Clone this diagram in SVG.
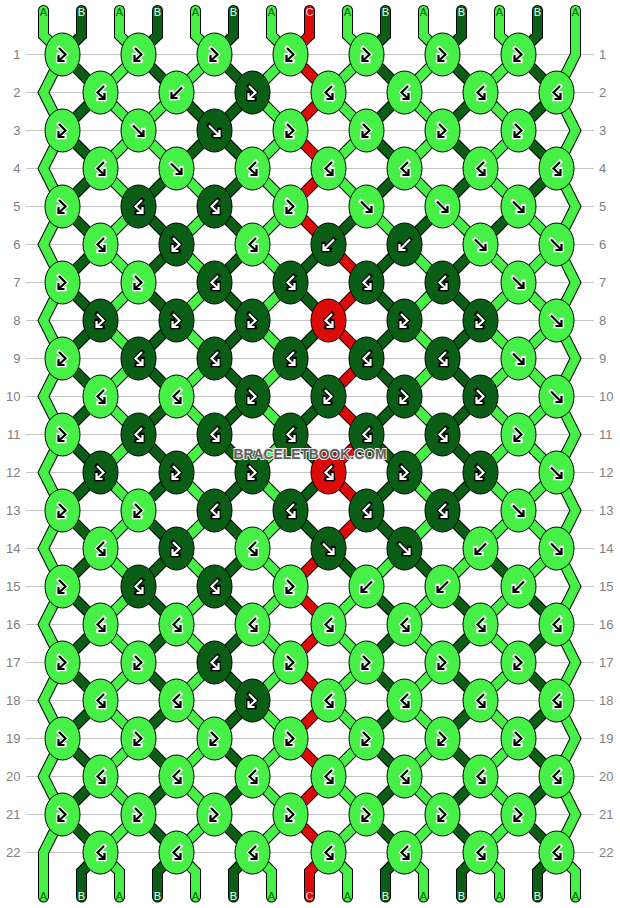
<svg xmlns="http://www.w3.org/2000/svg" xmlns:xlink="http://www.w3.org/1999/xlink" width="620" height="908" viewBox="0 0 620 908">
<style>
.grid{fill:none;stroke:#c4c4c4;stroke-width:1}
.ol{fill:none;stroke:#000;stroke-width:11;stroke-linecap:round;stroke-linejoin:miter}
.sa{fill:none;stroke:#46f046;stroke-width:9;stroke-linecap:round;stroke-linejoin:miter}
.sb{fill:none;stroke:#0b5e15;stroke-width:9;stroke-linecap:round;stroke-linejoin:miter}
.sc{fill:none;stroke:#dd0a0a;stroke-width:9;stroke-linecap:round;stroke-linejoin:miter}
.kA{fill:#46f046;stroke:#000;stroke-width:1}
.kB{fill:#0b5e15;stroke:#000;stroke-width:1}
.kC{fill:#dd0a0a;stroke:#000;stroke-width:1}
.o1{fill:none;stroke:#fff;stroke-width:4.4;stroke-linecap:square}
.i1{fill:none;stroke:#000;stroke-width:2.2;stroke-linecap:butt}
.o2{fill:none;stroke:#000;stroke-width:4.4;stroke-linecap:square}
.i2{fill:none;stroke:#fff;stroke-width:2.2;stroke-linecap:butt}
.lab{font-family:"Liberation Sans",Arial,sans-serif;font-size:11px;text-anchor:middle}
.la{fill:#0b5e15}
.lb{fill:#e8ffe8}
.lc{fill:#ffd6d6}
.num{font-family:"Liberation Sans",Arial,sans-serif;font-size:13px;fill:#808080}
.wm{font-family:"Liberation Sans",Arial,sans-serif;font-weight:bold;font-size:15px;fill:#5e5e5e;stroke:#f0f0f0;stroke-width:2;paint-order:stroke;text-anchor:middle}
</style>
<defs>
<path id="gFB" d="M-3.5-6.5L3 0L-4 6.5M-4 0.5V6.5H2"/>
<path id="gBF" d="M3.5-6.5L-3 0L4 6.5M4 0.5V6.5H-2"/>
<path id="gF" d="M-5.5-5L5 5.5M5-0.5V5.5H-1"/>
<path id="gB" d="M5.5-5L-5 5.5M-5-0.5V5.5H1"/>
<g id="aFB"><ellipse class="kA" rx="17.5" ry="21.5"/><use href="#gFB" class="o1"/><use href="#gFB" class="i1"/></g>
<g id="aBF"><ellipse class="kA" rx="17.5" ry="21.5"/><use href="#gBF" class="o1"/><use href="#gBF" class="i1"/></g>
<g id="aF"><ellipse class="kA" rx="17.5" ry="21.5"/><use href="#gF" class="o1"/><use href="#gF" class="i1"/></g>
<g id="aB"><ellipse class="kA" rx="17.5" ry="21.5"/><use href="#gB" class="o1"/><use href="#gB" class="i1"/></g>
<g id="bFB"><ellipse class="kB" rx="17.5" ry="21.5"/><use href="#gFB" class="o2"/><use href="#gFB" class="i2"/></g>
<g id="bBF"><ellipse class="kB" rx="17.5" ry="21.5"/><use href="#gBF" class="o2"/><use href="#gBF" class="i2"/></g>
<g id="bF"><ellipse class="kB" rx="17.5" ry="21.5"/><use href="#gF" class="o2"/><use href="#gF" class="i2"/></g>
<g id="bB"><ellipse class="kB" rx="17.5" ry="21.5"/><use href="#gB" class="o2"/><use href="#gB" class="i2"/></g>
<g id="cBF"><ellipse class="kC" rx="17.5" ry="21.5"/><use href="#gBF" class="o2"/><use href="#gBF" class="i2"/></g>
<path id="pA" d="M62.5 54.5L43.5 92.5L62.5 130.5L43.5 168.5L62.5 206.5L43.5 244.5L62.5 282.5L43.5 320.5L62.5 358.5L43.5 396.5L62.5 434.5L43.5 472.5L62.5 510.5L43.5 548.5L62.5 586.5L43.5 624.5L62.5 662.5L43.5 700.5L62.5 738.5L43.5 776.5L62.5 814.5L43.5 852.5V897
M575.5 10.5V54.5L556.5 92.5L575.5 130.5L556.5 168.5L575.5 206.5L556.5 244.5L575.5 282.5L556.5 320.5L575.5 358.5L556.5 396.5L575.5 434.5L556.5 472.5L575.5 510.5L556.5 548.5L575.5 586.5L556.5 624.5L575.5 662.5L556.5 700.5L575.5 738.5L556.5 776.5L575.5 814.5L556.5 852.5L575.5 871.5V897
M43.5 10.5V35.5L62.5 54.5M119.5 10.5V35.5L138.5 54.5M195.5 10.5V35.5L214.5 54.5M271.5 10.5V35.5L290.5 54.5M347.5 10.5V35.5L366.5 54.5M423.5 10.5V35.5L442.5 54.5M499.5 10.5V35.5L518.5 54.5
M100.5 852.5L119.5 871.5V897M176.5 852.5L195.5 871.5V897M252.5 852.5L271.5 871.5V897M328.5 852.5L347.5 871.5V897M404.5 852.5L423.5 871.5V897M480.5 852.5L499.5 871.5V897
M138.5 54.5l-38 38M214.5 54.5l-38 38M290.5 54.5l-38 38M366.5 54.5l-38 38M442.5 54.5l-38 38M518.5 54.5l-38 38
M100.5 92.5l38 38M176.5 92.5l-38 38M252.5 92.5l38 38M328.5 92.5l38 38M404.5 92.5l38 38M480.5 92.5l38 38
M138.5 130.5l-38 38M138.5 130.5l38 38M290.5 130.5l-38 38M366.5 130.5l-38 38M442.5 130.5l-38 38M518.5 130.5l-38 38
M100.5 168.5l38 38M176.5 168.5l38 38M252.5 168.5l38 38M328.5 168.5l38 38M404.5 168.5l38 38M480.5 168.5l38 38
M138.5 206.5l-38 38M214.5 206.5l-38 38M290.5 206.5l-38 38M366.5 206.5l38 38M442.5 206.5l38 38M518.5 206.5l38 38
M100.5 244.5l38 38M176.5 244.5l38 38M252.5 244.5l38 38M404.5 244.5l38 38M480.5 244.5l38 38M556.5 244.5l-38 38
M138.5 282.5l-38 38M214.5 282.5l-38 38M290.5 282.5l-38 38M442.5 282.5l-38 38M518.5 282.5l-38 38M518.5 282.5l38 38
M100.5 320.5l38 38M176.5 320.5l38 38M252.5 320.5l38 38M404.5 320.5l38 38M480.5 320.5l38 38M556.5 320.5l-38 38
M138.5 358.5l-38 38M214.5 358.5l-38 38M290.5 358.5l-38 38M442.5 358.5l-38 38M518.5 358.5l-38 38M518.5 358.5l38 38
M100.5 396.5l38 38M176.5 396.5l38 38M252.5 396.5l38 38M404.5 396.5l38 38M480.5 396.5l38 38M556.5 396.5l-38 38
M138.5 434.5l-38 38M214.5 434.5l-38 38M290.5 434.5l-38 38M442.5 434.5l-38 38M518.5 434.5l-38 38M518.5 434.5l38 38
M100.5 472.5l38 38M176.5 472.5l38 38M252.5 472.5l38 38M404.5 472.5l38 38M480.5 472.5l38 38M556.5 472.5l-38 38
M138.5 510.5l-38 38M214.5 510.5l-38 38M290.5 510.5l-38 38M442.5 510.5l-38 38M518.5 510.5l-38 38M518.5 510.5l38 38
M100.5 548.5l38 38M176.5 548.5l38 38M252.5 548.5l38 38M404.5 548.5l-38 38M480.5 548.5l-38 38M556.5 548.5l-38 38
M138.5 586.5l-38 38M214.5 586.5l-38 38M290.5 586.5l-38 38M366.5 586.5l-38 38M442.5 586.5l-38 38M518.5 586.5l-38 38
M100.5 624.5l38 38M176.5 624.5l38 38M252.5 624.5l38 38M328.5 624.5l38 38M404.5 624.5l38 38M480.5 624.5l38 38
M138.5 662.5l-38 38M214.5 662.5l-38 38M290.5 662.5l-38 38M366.5 662.5l-38 38M442.5 662.5l-38 38M518.5 662.5l-38 38
M100.5 700.5l38 38M176.5 700.5l38 38M252.5 700.5l38 38M328.5 700.5l38 38M404.5 700.5l38 38M480.5 700.5l38 38
M138.5 738.5l-38 38M214.5 738.5l-38 38M290.5 738.5l-38 38M366.5 738.5l-38 38M442.5 738.5l-38 38M518.5 738.5l-38 38
M100.5 776.5l38 38M176.5 776.5l38 38M252.5 776.5l38 38M328.5 776.5l38 38M404.5 776.5l38 38M480.5 776.5l38 38
M138.5 814.5l-38 38M214.5 814.5l-38 38M290.5 814.5l-38 38M366.5 814.5l-38 38M442.5 814.5l-38 38M518.5 814.5l-38 38"/>
<path id="pB" d="M81.5 10.5V35.5L62.5 54.5M157.5 10.5V35.5L138.5 54.5M233.5 10.5V35.5L214.5 54.5M385.5 10.5V35.5L366.5 54.5M461.5 10.5V35.5L442.5 54.5M537.5 10.5V35.5L518.5 54.5
M100.5 852.5L81.5 871.5V897M176.5 852.5L157.5 871.5V897M252.5 852.5L233.5 871.5V897M404.5 852.5L385.5 871.5V897M480.5 852.5L461.5 871.5V897M556.5 852.5L537.5 871.5V897
M62.5 54.5l38 38M138.5 54.5l38 38M214.5 54.5l38 38M366.5 54.5l38 38M442.5 54.5l38 38M518.5 54.5l38 38
M100.5 92.5l-38 38M176.5 92.5l38 38M252.5 92.5l-38 38M404.5 92.5l-38 38M480.5 92.5l-38 38M556.5 92.5l-38 38
M62.5 130.5l38 38M214.5 130.5l-38 38M214.5 130.5l38 38M366.5 130.5l38 38M442.5 130.5l38 38M518.5 130.5l38 38
M100.5 168.5l-38 38M176.5 168.5l-38 38M252.5 168.5l-38 38M404.5 168.5l-38 38M480.5 168.5l-38 38M556.5 168.5l-38 38
M62.5 206.5l38 38M138.5 206.5l38 38M214.5 206.5l38 38M366.5 206.5l-38 38M442.5 206.5l-38 38M518.5 206.5l-38 38
M100.5 244.5l-38 38M176.5 244.5l-38 38M252.5 244.5l-38 38M328.5 244.5l-38 38M404.5 244.5l-38 38M480.5 244.5l-38 38
M62.5 282.5l38 38M138.5 282.5l38 38M214.5 282.5l38 38M290.5 282.5l38 38M366.5 282.5l38 38M442.5 282.5l38 38
M100.5 320.5l-38 38M176.5 320.5l-38 38M252.5 320.5l-38 38M328.5 320.5l-38 38M404.5 320.5l-38 38M480.5 320.5l-38 38
M62.5 358.5l38 38M138.5 358.5l38 38M214.5 358.5l38 38M290.5 358.5l38 38M366.5 358.5l38 38M442.5 358.5l38 38
M100.5 396.5l-38 38M176.5 396.5l-38 38M252.5 396.5l-38 38M328.5 396.5l-38 38M404.5 396.5l-38 38M480.5 396.5l-38 38
M62.5 434.5l38 38M138.5 434.5l38 38M214.5 434.5l38 38M290.5 434.5l38 38M366.5 434.5l38 38M442.5 434.5l38 38
M100.5 472.5l-38 38M176.5 472.5l-38 38M252.5 472.5l-38 38M328.5 472.5l-38 38M404.5 472.5l-38 38M480.5 472.5l-38 38
M62.5 510.5l38 38M138.5 510.5l38 38M214.5 510.5l38 38M290.5 510.5l38 38M366.5 510.5l38 38M442.5 510.5l38 38
M100.5 548.5l-38 38M176.5 548.5l-38 38M252.5 548.5l-38 38M328.5 548.5l38 38M404.5 548.5l38 38M480.5 548.5l38 38
M62.5 586.5l38 38M138.5 586.5l38 38M214.5 586.5l38 38M366.5 586.5l38 38M442.5 586.5l38 38M518.5 586.5l38 38
M100.5 624.5l-38 38M176.5 624.5l-38 38M252.5 624.5l-38 38M404.5 624.5l-38 38M480.5 624.5l-38 38M556.5 624.5l-38 38
M62.5 662.5l38 38M138.5 662.5l38 38M214.5 662.5l38 38M366.5 662.5l38 38M442.5 662.5l38 38M518.5 662.5l38 38
M100.5 700.5l-38 38M176.5 700.5l-38 38M252.5 700.5l-38 38M404.5 700.5l-38 38M480.5 700.5l-38 38M556.5 700.5l-38 38
M62.5 738.5l38 38M138.5 738.5l38 38M214.5 738.5l38 38M366.5 738.5l38 38M442.5 738.5l38 38M518.5 738.5l38 38
M100.5 776.5l-38 38M176.5 776.5l-38 38M252.5 776.5l-38 38M404.5 776.5l-38 38M480.5 776.5l-38 38M556.5 776.5l-38 38
M62.5 814.5l38 38M138.5 814.5l38 38M214.5 814.5l38 38M366.5 814.5l38 38M442.5 814.5l38 38M518.5 814.5l38 38"/>
<path id="pC" d="M309.5 10.5V35.5L290.5 54.5L328.5 92.5L290.5 130.5L328.5 168.5L290.5 206.5L328.5 244.5L366.5 282.5L328.5 320.5L366.5 358.5L328.5 396.5L366.5 434.5L328.5 472.5L366.5 510.5L328.5 548.5L290.5 586.5L328.5 624.5L290.5 662.5L328.5 700.5L290.5 738.5L328.5 776.5L290.5 814.5L328.5 852.5L309.5 871.5V897"/>
</defs>
<rect width="620" height="908" fill="#fff"/>
<path class="grid" d="M26 54.5H594M26 92.5H594M26 130.5H594M26 168.5H594M26 206.5H594M26 244.5H594M26 282.5H594M26 320.5H594M26 358.5H594M26 396.5H594M26 434.5H594M26 472.5H594M26 510.5H594M26 548.5H594M26 586.5H594M26 624.5H594M26 662.5H594M26 700.5H594M26 738.5H594M26 776.5H594M26 814.5H594M26 852.5H594"/>
<g id="rownumbers" class="num">
<g text-anchor="end">
<text x="20.5" y="59">1</text><text x="20.5" y="97">2</text><text x="20.5" y="135">3</text><text x="20.5" y="173">4</text><text x="20.5" y="211">5</text><text x="20.5" y="249">6</text><text x="20.5" y="287">7</text><text x="20.5" y="325">8</text><text x="20.5" y="363">9</text><text x="20.5" y="401">10</text><text x="20.5" y="439">11</text><text x="20.5" y="477">12</text><text x="20.5" y="515">13</text><text x="20.5" y="553">14</text><text x="20.5" y="591">15</text><text x="20.5" y="629">16</text><text x="20.5" y="667">17</text><text x="20.5" y="705">18</text><text x="20.5" y="743">19</text><text x="20.5" y="781">20</text><text x="20.5" y="819">21</text><text x="20.5" y="857">22</text>
</g>
<g text-anchor="start">
<text x="599" y="59">1</text><text x="599" y="97">2</text><text x="599" y="135">3</text><text x="599" y="173">4</text><text x="599" y="211">5</text><text x="599" y="249">6</text><text x="599" y="287">7</text><text x="599" y="325">8</text><text x="599" y="363">9</text><text x="599" y="401">10</text><text x="599" y="439">11</text><text x="599" y="477">12</text><text x="599" y="515">13</text><text x="599" y="553">14</text><text x="599" y="591">15</text><text x="599" y="629">16</text><text x="599" y="667">17</text><text x="599" y="705">18</text><text x="599" y="743">19</text><text x="599" y="781">20</text><text x="599" y="819">21</text><text x="599" y="857">22</text>
</g>
</g>
<g id="connectors">
<use href="#pA" class="ol"/><use href="#pB" class="ol"/><use href="#pC" class="ol"/>
<use href="#pA" class="sa"/><use href="#pB" class="sb"/><use href="#pC" class="sc"/>
</g>
<g id="stringlabels" class="lab">
<text class="la" x="43.5" y="16">A</text><text class="lb" x="81.5" y="16">B</text><text class="la" x="119.5" y="16">A</text><text class="lb" x="157.5" y="16">B</text><text class="la" x="195.5" y="16">A</text><text class="lb" x="233.5" y="16">B</text><text class="la" x="271.5" y="16">A</text><text class="lc" x="309.5" y="16">C</text><text class="la" x="347.5" y="16">A</text><text class="lb" x="385.5" y="16">B</text><text class="la" x="423.5" y="16">A</text><text class="lb" x="461.5" y="16">B</text><text class="la" x="499.5" y="16">A</text><text class="lb" x="537.5" y="16">B</text><text class="la" x="575.5" y="16">A</text>
<text class="la" x="43.5" y="900">A</text><text class="lb" x="81.5" y="900">B</text><text class="la" x="119.5" y="900">A</text><text class="lb" x="157.5" y="900">B</text><text class="la" x="195.5" y="900">A</text><text class="lb" x="233.5" y="900">B</text><text class="la" x="271.5" y="900">A</text><text class="lc" x="309.5" y="900">C</text><text class="la" x="347.5" y="900">A</text><text class="lb" x="385.5" y="900">B</text><text class="la" x="423.5" y="900">A</text><text class="lb" x="461.5" y="900">B</text><text class="la" x="499.5" y="900">A</text><text class="lb" x="537.5" y="900">B</text><text class="la" x="575.5" y="900">A</text>
</g>
<g id="knots">
<g id="k1-1"><use href="#aFB" x="62.5" y="54.5"/></g><g id="k1-2"><use href="#aFB" x="138.5" y="54.5"/></g><g id="k1-3"><use href="#aFB" x="214.5" y="54.5"/></g><g id="k1-4"><use href="#aFB" x="290.5" y="54.5"/></g><g id="k1-5"><use href="#aFB" x="366.5" y="54.5"/></g><g id="k1-6"><use href="#aFB" x="442.5" y="54.5"/></g><g id="k1-7"><use href="#aFB" x="518.5" y="54.5"/></g>
<g id="k2-1"><use href="#aBF" x="100.5" y="92.5"/></g><g id="k2-2"><use href="#aB" x="176.5" y="92.5"/></g><g id="k2-3"><use href="#bFB" x="252.5" y="92.5"/></g><g id="k2-4"><use href="#aBF" x="328.5" y="92.5"/></g><g id="k2-5"><use href="#aBF" x="404.5" y="92.5"/></g><g id="k2-6"><use href="#aBF" x="480.5" y="92.5"/></g><g id="k2-7"><use href="#aBF" x="556.5" y="92.5"/></g>
<g id="k3-1"><use href="#aFB" x="62.5" y="130.5"/></g><g id="k3-2"><use href="#aF" x="138.5" y="130.5"/></g><g id="k3-3"><use href="#bF" x="214.5" y="130.5"/></g><g id="k3-4"><use href="#aFB" x="290.5" y="130.5"/></g><g id="k3-5"><use href="#aFB" x="366.5" y="130.5"/></g><g id="k3-6"><use href="#aFB" x="442.5" y="130.5"/></g><g id="k3-7"><use href="#aFB" x="518.5" y="130.5"/></g>
<g id="k4-1"><use href="#aBF" x="100.5" y="168.5"/></g><g id="k4-2"><use href="#aF" x="176.5" y="168.5"/></g><g id="k4-3"><use href="#aBF" x="252.5" y="168.5"/></g><g id="k4-4"><use href="#aBF" x="328.5" y="168.5"/></g><g id="k4-5"><use href="#aBF" x="404.5" y="168.5"/></g><g id="k4-6"><use href="#aBF" x="480.5" y="168.5"/></g><g id="k4-7"><use href="#aBF" x="556.5" y="168.5"/></g>
<g id="k5-1"><use href="#aFB" x="62.5" y="206.5"/></g><g id="k5-2"><use href="#bBF" x="138.5" y="206.5"/></g><g id="k5-3"><use href="#bBF" x="214.5" y="206.5"/></g><g id="k5-4"><use href="#aFB" x="290.5" y="206.5"/></g><g id="k5-5"><use href="#aF" x="366.5" y="206.5"/></g><g id="k5-6"><use href="#aF" x="442.5" y="206.5"/></g><g id="k5-7"><use href="#aF" x="518.5" y="206.5"/></g>
<g id="k6-1"><use href="#aBF" x="100.5" y="244.5"/></g><g id="k6-2"><use href="#bFB" x="176.5" y="244.5"/></g><g id="k6-3"><use href="#aBF" x="252.5" y="244.5"/></g><g id="k6-4"><use href="#bB" x="328.5" y="244.5"/></g><g id="k6-5"><use href="#bB" x="404.5" y="244.5"/></g><g id="k6-6"><use href="#aF" x="480.5" y="244.5"/></g><g id="k6-7"><use href="#aF" x="556.5" y="244.5"/></g>
<g id="k7-1"><use href="#aFB" x="62.5" y="282.5"/></g><g id="k7-2"><use href="#aFB" x="138.5" y="282.5"/></g><g id="k7-3"><use href="#bBF" x="214.5" y="282.5"/></g><g id="k7-4"><use href="#bBF" x="290.5" y="282.5"/></g><g id="k7-5"><use href="#bBF" x="366.5" y="282.5"/></g><g id="k7-6"><use href="#bBF" x="442.5" y="282.5"/></g><g id="k7-7"><use href="#aF" x="518.5" y="282.5"/></g>
<g id="k8-1"><use href="#bFB" x="100.5" y="320.5"/></g><g id="k8-2"><use href="#bFB" x="176.5" y="320.5"/></g><g id="k8-3"><use href="#bFB" x="252.5" y="320.5"/></g><g id="k8-4"><use href="#cBF" x="328.5" y="320.5"/></g><g id="k8-5"><use href="#bFB" x="404.5" y="320.5"/></g><g id="k8-6"><use href="#bFB" x="480.5" y="320.5"/></g><g id="k8-7"><use href="#aF" x="556.5" y="320.5"/></g>
<g id="k9-1"><use href="#aFB" x="62.5" y="358.5"/></g><g id="k9-2"><use href="#bBF" x="138.5" y="358.5"/></g><g id="k9-3"><use href="#bBF" x="214.5" y="358.5"/></g><g id="k9-4"><use href="#bBF" x="290.5" y="358.5"/></g><g id="k9-5"><use href="#bBF" x="366.5" y="358.5"/></g><g id="k9-6"><use href="#bBF" x="442.5" y="358.5"/></g><g id="k9-7"><use href="#aF" x="518.5" y="358.5"/></g>
<g id="k10-1"><use href="#aBF" x="100.5" y="396.5"/></g><g id="k10-2"><use href="#aBF" x="176.5" y="396.5"/></g><g id="k10-3"><use href="#bFB" x="252.5" y="396.5"/></g><g id="k10-4"><use href="#bFB" x="328.5" y="396.5"/></g><g id="k10-5"><use href="#bFB" x="404.5" y="396.5"/></g><g id="k10-6"><use href="#bFB" x="480.5" y="396.5"/></g><g id="k10-7"><use href="#aF" x="556.5" y="396.5"/></g>
<g id="k11-1"><use href="#aFB" x="62.5" y="434.5"/></g><g id="k11-2"><use href="#bBF" x="138.5" y="434.5"/></g><g id="k11-3"><use href="#bBF" x="214.5" y="434.5"/></g><g id="k11-4"><use href="#bBF" x="290.5" y="434.5"/></g><g id="k11-5"><use href="#bBF" x="366.5" y="434.5"/></g><g id="k11-6"><use href="#bBF" x="442.5" y="434.5"/></g><g id="k11-7"><use href="#aFB" x="518.5" y="434.5"/></g>
<g id="k12-1"><use href="#bFB" x="100.5" y="472.5"/></g><g id="k12-2"><use href="#bFB" x="176.5" y="472.5"/></g><g id="k12-3"><use href="#bFB" x="252.5" y="472.5"/></g><g id="k12-4"><use href="#cBF" x="328.5" y="472.5"/></g><g id="k12-5"><use href="#bFB" x="404.5" y="472.5"/></g><g id="k12-6"><use href="#bFB" x="480.5" y="472.5"/></g><g id="k12-7"><use href="#aF" x="556.5" y="472.5"/></g>
<g id="k13-1"><use href="#aFB" x="62.5" y="510.5"/></g><g id="k13-2"><use href="#aFB" x="138.5" y="510.5"/></g><g id="k13-3"><use href="#bBF" x="214.5" y="510.5"/></g><g id="k13-4"><use href="#bBF" x="290.5" y="510.5"/></g><g id="k13-5"><use href="#bBF" x="366.5" y="510.5"/></g><g id="k13-6"><use href="#bBF" x="442.5" y="510.5"/></g><g id="k13-7"><use href="#aF" x="518.5" y="510.5"/></g>
<g id="k14-1"><use href="#aBF" x="100.5" y="548.5"/></g><g id="k14-2"><use href="#bFB" x="176.5" y="548.5"/></g><g id="k14-3"><use href="#aBF" x="252.5" y="548.5"/></g><g id="k14-4"><use href="#bF" x="328.5" y="548.5"/></g><g id="k14-5"><use href="#bF" x="404.5" y="548.5"/></g><g id="k14-6"><use href="#aB" x="480.5" y="548.5"/></g><g id="k14-7"><use href="#aF" x="556.5" y="548.5"/></g>
<g id="k15-1"><use href="#aFB" x="62.5" y="586.5"/></g><g id="k15-2"><use href="#bBF" x="138.5" y="586.5"/></g><g id="k15-3"><use href="#bBF" x="214.5" y="586.5"/></g><g id="k15-4"><use href="#aFB" x="290.5" y="586.5"/></g><g id="k15-5"><use href="#aB" x="366.5" y="586.5"/></g><g id="k15-6"><use href="#aB" x="442.5" y="586.5"/></g><g id="k15-7"><use href="#aB" x="518.5" y="586.5"/></g>
<g id="k16-1"><use href="#aBF" x="100.5" y="624.5"/></g><g id="k16-2"><use href="#aBF" x="176.5" y="624.5"/></g><g id="k16-3"><use href="#aBF" x="252.5" y="624.5"/></g><g id="k16-4"><use href="#aBF" x="328.5" y="624.5"/></g><g id="k16-5"><use href="#aBF" x="404.5" y="624.5"/></g><g id="k16-6"><use href="#aBF" x="480.5" y="624.5"/></g><g id="k16-7"><use href="#aBF" x="556.5" y="624.5"/></g>
<g id="k17-1"><use href="#aFB" x="62.5" y="662.5"/></g><g id="k17-2"><use href="#aFB" x="138.5" y="662.5"/></g><g id="k17-3"><use href="#bBF" x="214.5" y="662.5"/></g><g id="k17-4"><use href="#aFB" x="290.5" y="662.5"/></g><g id="k17-5"><use href="#aFB" x="366.5" y="662.5"/></g><g id="k17-6"><use href="#aFB" x="442.5" y="662.5"/></g><g id="k17-7"><use href="#aFB" x="518.5" y="662.5"/></g>
<g id="k18-1"><use href="#aBF" x="100.5" y="700.5"/></g><g id="k18-2"><use href="#aBF" x="176.5" y="700.5"/></g><g id="k18-3"><use href="#bFB" x="252.5" y="700.5"/></g><g id="k18-4"><use href="#aBF" x="328.5" y="700.5"/></g><g id="k18-5"><use href="#aBF" x="404.5" y="700.5"/></g><g id="k18-6"><use href="#aBF" x="480.5" y="700.5"/></g><g id="k18-7"><use href="#aBF" x="556.5" y="700.5"/></g>
<g id="k19-1"><use href="#aFB" x="62.5" y="738.5"/></g><g id="k19-2"><use href="#aFB" x="138.5" y="738.5"/></g><g id="k19-3"><use href="#aFB" x="214.5" y="738.5"/></g><g id="k19-4"><use href="#aFB" x="290.5" y="738.5"/></g><g id="k19-5"><use href="#aFB" x="366.5" y="738.5"/></g><g id="k19-6"><use href="#aFB" x="442.5" y="738.5"/></g><g id="k19-7"><use href="#aFB" x="518.5" y="738.5"/></g>
<g id="k20-1"><use href="#aBF" x="100.5" y="776.5"/></g><g id="k20-2"><use href="#aBF" x="176.5" y="776.5"/></g><g id="k20-3"><use href="#aBF" x="252.5" y="776.5"/></g><g id="k20-4"><use href="#aBF" x="328.5" y="776.5"/></g><g id="k20-5"><use href="#aBF" x="404.5" y="776.5"/></g><g id="k20-6"><use href="#aBF" x="480.5" y="776.5"/></g><g id="k20-7"><use href="#aBF" x="556.5" y="776.5"/></g>
<g id="k21-1"><use href="#aFB" x="62.5" y="814.5"/></g><g id="k21-2"><use href="#aFB" x="138.5" y="814.5"/></g><g id="k21-3"><use href="#aFB" x="214.5" y="814.5"/></g><g id="k21-4"><use href="#aFB" x="290.5" y="814.5"/></g><g id="k21-5"><use href="#aFB" x="366.5" y="814.5"/></g><g id="k21-6"><use href="#aFB" x="442.5" y="814.5"/></g><g id="k21-7"><use href="#aFB" x="518.5" y="814.5"/></g>
<g id="k22-1"><use href="#aBF" x="100.5" y="852.5"/></g><g id="k22-2"><use href="#aBF" x="176.5" y="852.5"/></g><g id="k22-3"><use href="#aBF" x="252.5" y="852.5"/></g><g id="k22-4"><use href="#aBF" x="328.5" y="852.5"/></g><g id="k22-5"><use href="#aBF" x="404.5" y="852.5"/></g><g id="k22-6"><use href="#aBF" x="480.5" y="852.5"/></g><g id="k22-7"><use href="#aBF" x="556.5" y="852.5"/></g>
</g>
<text class="wm" x="310" y="459" textLength="153" lengthAdjust="spacingAndGlyphs">BRACELETBOOK.COM</text>
</svg>
